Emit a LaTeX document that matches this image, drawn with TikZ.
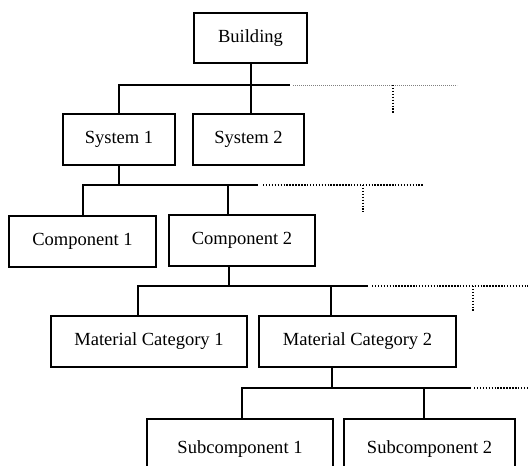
\documentclass[tikz,border=0pt]{standalone}
\usepackage{fontspec}
\setmainfont{Liberation Serif}
\begin{document}
\begin{tikzpicture}[x=0.75pt,y=-0.75pt,
  box/.style={draw=black,line width=1.5pt,fill=white,inner sep=0pt,minimum height=38.25pt,font=\fontsize{13.9pt}{16pt}\selectfont},
  conn/.style={line width=1.5pt,line cap=rect},
  dotg/.style={gray,line width=0.6pt,dash pattern=on 0.9pt off 0.6pt},
  dotk/.style={black,line width=1.1pt,dash pattern=on 1.1pt off 1.1pt}]
\useasboundingbox (0,0) rectangle (528,466);
\fill[white] (0,0) rectangle (528,466);
\clip (0,0) rectangle (528,466);
% nodes
\node[box,minimum width=84.75pt,minimum height=37.5pt] (bld) at (250.5,38) {Building};
\node[box,minimum width=84pt] (s1) at (119,139.5) {System 1};
\node[box,minimum width=83.25pt] (s2) at (248.5,139.5) {System 2};
\node[box,minimum width=110.25pt] (c1) at (82.5,241.5) {Component 1};
\node[box,minimum width=109.5pt] (c2) at (242,240.5) {Component 2};
\node[box,minimum width=147pt] (m1) at (149,341.5) {Material Category 1};
\node[box,minimum width=147.75pt] (m2) at (357.5,341.5) {Material Category 2};
\node[box,minimum width=139.5pt,minimum height=45pt] (u1) at (240,449) {Subcomponent 1};
\node[box,minimum width=128.25pt,minimum height=45pt] (u2) at (429.5,449) {Subcomponent 2};
% level 1
\coordinate (b1R) at (289,85);
\coordinate (g1L) at (293,85);
\coordinate (g1R) at (457,85);
\coordinate (g1D) at (393,85);
\draw[conn] (s1.north) |- (b1R);
\draw[conn] (bld.south) -- (bld.south |- s2.north);
\draw[dotg] (g1L) -- (g1R);
\draw[dotk] (g1D) -- ++(0,28);
% level 2
\coordinate (b2R) at (257,185);
\coordinate (d2) at (228,185);
\coordinate (g2L) at (263,185);
\coordinate (g2R) at (423,185);
\coordinate (g2D) at (363,185);
\draw[conn] (c1.north) |- (b2R);
\draw[conn] (s1.south) -- (s1.south |- b2R);
\draw[conn] (d2) -- (d2 |- c2.north);
\draw[dotk] (g2L) -- (g2R);
\draw[dotk] (g2D) -- ++(0,27);
% level 3
\coordinate (b3L) at (138,286);
\coordinate (b3R) at (367,286);
\coordinate (u3) at (229,286);
\coordinate (d3) at (331,286);
\coordinate (g3L) at (372,286);
\coordinate (g3R) at (528,286);
\coordinate (g3D) at (473,286);
\draw[conn] (b3L) -- (b3R);
\draw[conn] (b3L) -- (b3L |- m1.north);
\draw[conn] (d3) -- (d3 |- m2.north);
\draw[conn] (u3) -- (u3 |- c2.south);
\draw[dotk] (g3L) -- (g3R);
\draw[dotk] (g3D) -- ++(0,26);
% level 4
\coordinate (b4L) at (242,388);
\coordinate (b4R) at (470,388);
\coordinate (u4) at (332,388);
\coordinate (d4) at (424,388);
\coordinate (g4L) at (474,388);
\coordinate (g4R) at (528,388);
\draw[conn] (b4L) -- (b4R);
\draw[conn] (b4L) -- (b4L |- u1.north);
\draw[conn] (d4) -- (d4 |- u2.north);
\draw[conn] (u4) -- (u4 |- m2.south);
\draw[dotk] (g4L) -- (g4R);
\end{tikzpicture}
\end{document}
